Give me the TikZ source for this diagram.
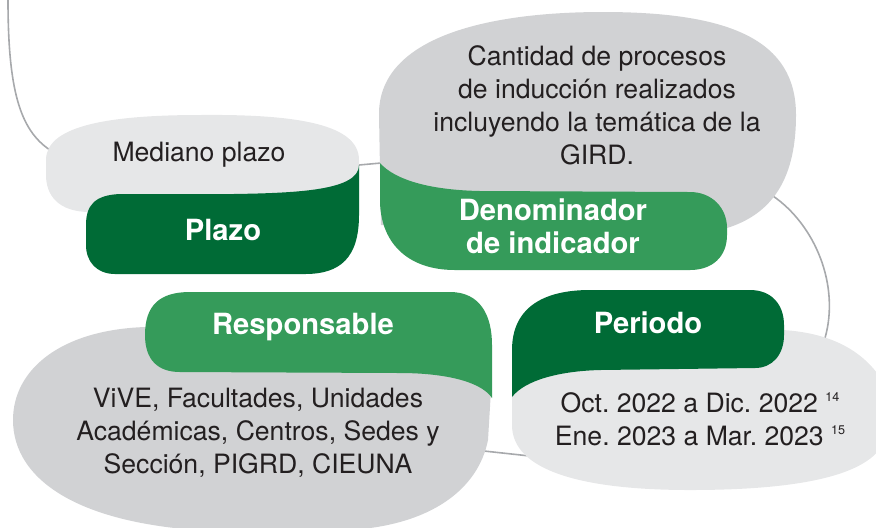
\documentclass[tikz,border=0pt]{standalone}
\usepackage{fontspec}
\setmainfont{TeX Gyre Heros}
\frenchspacing
\definecolor{verdeoscuro}{RGB}{0,107,54}
\definecolor{verdemedio}{RGB}{53,155,90}
\definecolor{grisclaro}{RGB}{230,231,232}
\definecolor{grismedio}{RGB}{209,210,212}
\definecolor{linea}{RGB}{167,169,172}
\definecolor{tinta}{RGB}{35,31,32}
\newcommand{\nota}[1]{\raisebox{5.3pt}{\fontsize{6.3}{7}\selectfont #1}}

\begin{document}
\begin{tikzpicture}[x=0.5pt,y=-0.5pt,
    conector/.style={draw=linea,line width=0.8pt},
    texto/.style={text=tinta,align=center,inner sep=0pt,font=\fontsize{13.3}{16.5}\selectfont},
    titulo/.style={text=white,align=center,inner sep=0pt,font=\bfseries\fontsize{14.6}{16.5}\selectfont}]
    \useasboundingbox (0,0) rectangle (876,527);
    \clip (0,0) rectangle (876,527);

    % connectors
    \coordinate (arriba) at (8,0);
    \coordinate (medL) at (50,150);
    \coordinate (medR) at (359,165);
    \coordinate (cantL) at (381,163);
    \coordinate (cantR) at (773,196);
    \coordinate (perT) at (825,338);
    \coordinate (respR) at (484,451);
    \coordinate (perL) at (530,456);
    \draw[conector] (arriba) .. controls (8,90) and (20,130) .. (medL);
    \draw[conector] (medR) -- (cantL);
    \draw[conector] (cantR) .. controls (815,225) and (840,285) .. (perT);
    \draw[conector] (respR) -- (perL);

    % Plazo
    \fill[grisclaro] (359,212) -- (90,212) .. controls (58,212) and (46,195) .. (46,175)
        -- (46,160) .. controls (46,128) and (100,115) .. (200,115)
        .. controls (300,114) and (359,125) .. (359,160) -- cycle;
    \fill[verdeoscuro] (86,245) -- (86,225) .. controls (86,205) and (95,195) .. (120,194)
        -- (233,194) .. controls (300,193) and (359,190) .. (359,165)
        -- (359,215) .. controls (359,258) and (340,274) .. (305,274)
        -- (115,274) .. controls (97,274) and (86,262) .. (86,245) -- cycle;
    \node[texto] (mediano) at (199,155) {Mediano plazo};
    \node[titulo] (plazo) at (223,230) {Plazo};

    % Denominador de indicador
    \fill[grismedio] (381,225) -- (379,115) .. controls (378,40) and (480,12) .. (603,12)
        .. controls (730,12) and (796,40) .. (796,115)
        .. controls (796,175) and (775,213) .. (727,228) -- cycle;
    \fill[verdemedio] (380,163) .. controls (395,180) and (430,190) .. (480,191)
        -- (690,192) .. controls (712,192) and (727,208) .. (727,228)
        -- (727,235) .. controls (727,257) and (712,270) .. (690,270)
        -- (455,270) .. controls (405,270) and (380,240) .. (380,200) -- cycle;
    \node[texto] (cantidad) at (597,105) {Cantidad de procesos\\de inducción realizados\\incluyendo la temática de la\\GIRD.};
    \node[titulo] (denominador) at (553,226) {Denominador\\de indicador};

    % Responsable
    \fill[grismedio] (491,360) -- (160,340) -- (145,327)
        .. controls (60,330) and (13,370) .. (13,420)
        .. controls (13,480) and (80,532) .. (250,532) -- (350,530)
        .. controls (430,525) and (478,490) .. (488,440) -- (491,390) -- cycle;
    \fill[verdemedio] (145,335) .. controls (145,305) and (160,292) .. (190,292)
        -- (450,292) .. controls (480,292) and (492,315) .. (492,345)
        -- (492,398) .. controls (480,380) and (440,373) .. (400,373)
        -- (180,372) .. controls (158,372) and (145,360) .. (145,335) -- cycle;
    \node[titulo] (responsable) at (303,327) {Responsable};
    \node[texto] (unidades) at (258,433) {ViVE, Facultades, Unidades\\Académicas, Centros, Sedes y\\Sección, PIGRD, CIEUNA};

    % Periodo
    \fill[grisclaro] (512,396) -- (520,320) -- (783,330)
        .. controls (830,333) and (865,350) .. (885,385) -- (885,440)
        .. controls (870,478) and (790,490) .. (690,490)
        .. controls (580,490) and (512,470) .. (512,425) -- cycle;
    \fill[verdeoscuro] (512,397) -- (512,350) .. controls (512,310) and (540,290) .. (590,290)
        -- (750,290) .. controls (772,290) and (784,305) .. (784,325)
        -- (784,335) .. controls (784,355) and (772,368) .. (755,368)
        -- (600,370) .. controls (560,371) and (525,380) .. (512,397) -- cycle;
    \node[titulo] (periodo) at (648,323) {Periodo};
    \node[texto] (fechas) at (700,419) {Oct. 2022 a Dic. 2022 \nota{14}\\Ene. 2023 a Mar. 2023 \nota{15}};
\end{tikzpicture}
\end{document}
